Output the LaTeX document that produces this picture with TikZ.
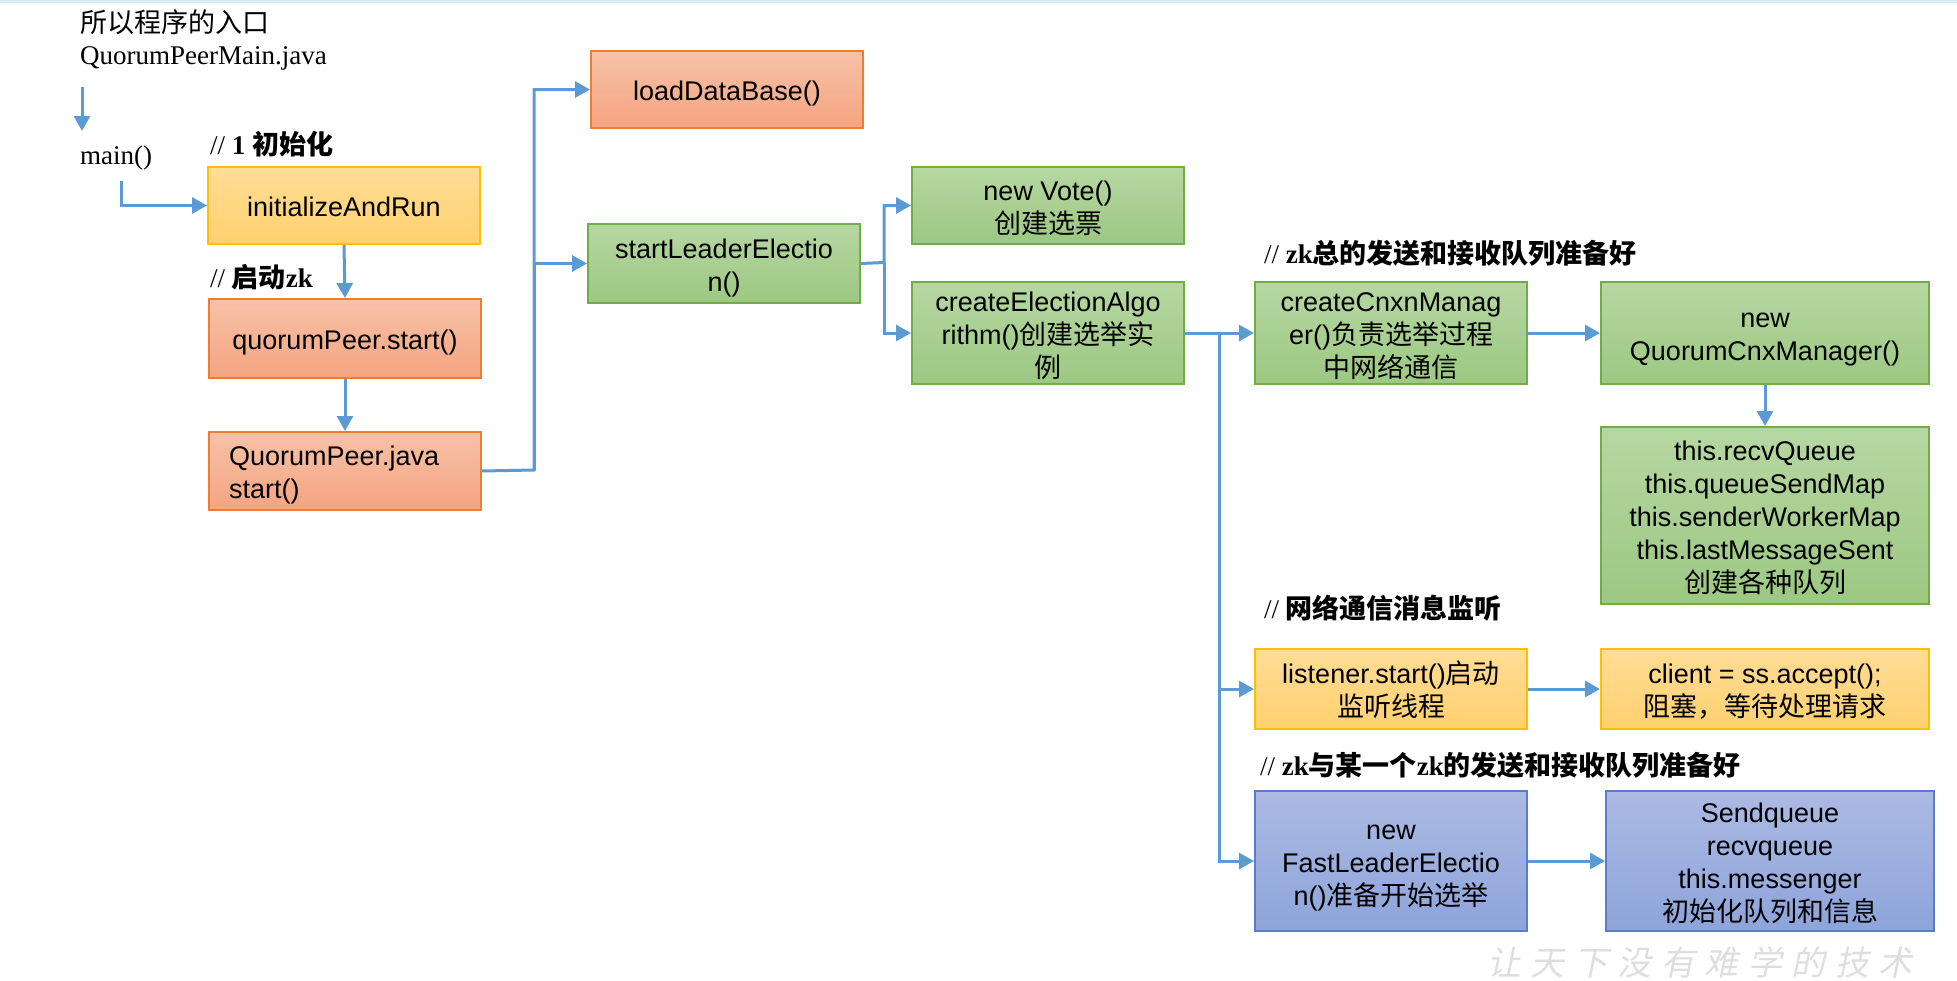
\documentclass[tikz,border=0pt]{standalone}
\usepackage{fontspec}
\setmainfont{Liberation Serif}
\setsansfont{Liberation Sans}
\newfontfamily\cjk{Noto Sans CJK SC}
\newfontfamily\cjkwm[FakeSlant=0.2]{Noto Sans CJK SC}
\usetikzlibrary{arrows.meta}
\definecolor{arrowblue}{RGB}{91,155,213}
\definecolor{ortop}{RGB}{247,194,168}
\definecolor{orbot}{RGB}{244,164,128}
\definecolor{orbd}{RGB}{237,125,49}
\definecolor{yetop}{RGB}{255,221,150}
\definecolor{yebot}{RGB}{255,208,110}
\definecolor{yebd}{RGB}{255,192,0}
\definecolor{grtop}{RGB}{182,215,162}
\definecolor{grbot}{RGB}{156,200,130}
\definecolor{grbd}{RGB}{112,173,71}
\definecolor{bltop}{RGB}{172,186,227}
\definecolor{blbot}{RGB}{141,164,218}
\definecolor{blbd}{RGB}{90,125,200}
\definecolor{topline}{RGB}{210,240,240}
\definecolor{wmgray}{RGB}{222,222,222}
\tikzset{
  arr/.style={draw=arrowblue, line width=3pt, -{Triangle[length=15pt,width=16pt]}},
  box/.style={draw, line width=2pt, inner sep=0pt, align=center, anchor=north west,
    font=\sffamily\fontsize{27}{33}\selectfont, text=black,
    execute at begin node={\rule{0pt}{28pt}},
    execute at end node={\rule[-6pt]{0pt}{0pt}}},
  ml/.style={execute at begin node={\rule{0pt}{#1}}},
  orangebox/.style={box, draw=orbd, top color=ortop, bottom color=orbot},
  yellowbox/.style={box, draw=yebd, top color=yetop, bottom color=yebot},
  greenbox/.style={box, draw=grbd, top color=grtop, bottom color=grbot},
  bluebox/.style={box, draw=blbd, top color=bltop, bottom color=blbot},
  lbl/.style={anchor=west, inner sep=0pt, font=\rmfamily\fontsize{27}{33}\selectfont},
  cmt/.style={anchor=west, inner sep=0pt, font=\rmfamily\fontsize{27}{33}\selectfont},
}
\begin{document}
\begin{tikzpicture}[x=1pt,y=-1pt]
\useasboundingbox (0,0) rectangle (1957,980);
\fill[topline] (0,0) rectangle (1957,2.5);

% left texts
\node[lbl] (t1) at (80,22) {{\cjk 所以程序的入口}};
\node[lbl] (t2) at (80,58) {QuorumPeerMain.java};
\node[lbl] (mainn) at (80,158) {main()};
\coordinate (s1) at (82,87);
\coordinate (s2) at (82,131);
\coordinate (m1) at (121,181);
\draw[arr] (s1) -- (s2);

% comments
\node[cmt] (c1) at (210,144) {// \textbf{1} {\cjk\bfseries 初始化}};
\node[cmt] (c2) at (210,277) {// {\cjk\bfseries 启动}\textbf{zk}};
\node[cmt] (c3) at (1264,253) {// \textbf{zk}{\cjk\bfseries 总的发送和接收队列准备好}};
\node[cmt] (c4) at (1264,608) {// {\cjk\bfseries 网络通信消息监听}};
\node[cmt] (c5) at (1260,765) {// \textbf{zk}{\cjk\bfseries 与某一个}\textbf{zk}{\cjk\bfseries 的发送和接收队列准备好}};

% boxes
\node[yellowbox, minimum width=272pt, minimum height=77pt] (init) at (207,166) {initializeAndRun};
\node[orangebox, minimum width=272pt, minimum height=79pt] (qstart) at (208,298) {quorumPeer.start()};
\node[orangebox, text width=232pt, inner xsep=20pt, align=left, minimum height=78pt] (qpjava) at (208,431) {QuorumPeer.java\\start()};
\node[orangebox, minimum width=272pt, minimum height=77pt] (load) at (590,50) {loadDataBase()};
\node[greenbox, ml=61pt, minimum width=272pt, minimum height=79pt] (sle) at (587,223) {startLeaderElectio\\n()};
\node[greenbox, ml=61pt, minimum width=272pt, minimum height=77pt] (vote) at (911,166) {new Vote()\\{\cjk 创建选票}};
\node[greenbox, ml=94pt, minimum width=272pt, minimum height=102pt] (cea) at (911,281) {createElectionAlgo\\rithm(){\cjk 创建选举实}\\{\cjk 例}};
\node[greenbox, ml=94pt, minimum width=272pt, minimum height=102pt] (ccm) at (1254,281) {createCnxnManag\\er(){\cjk 负责选举过程}\\{\cjk 中网络通信}};
\node[greenbox, ml=61pt, minimum width=328pt, minimum height=102pt] (qcm) at (1600,281) {new\\QuorumCnxManager()};
\node[greenbox, ml=160pt, minimum width=328pt, minimum height=177pt] (recv) at (1600,426) {this.recvQueue\\this.queueSendMap\\this.senderWorkerMap\\this.lastMessageSent\\{\cjk 创建各种队列}};
\node[yellowbox, ml=61pt, minimum width=272pt, minimum height=80pt] (lis) at (1254,648) {listener.start(){\cjk 启动}\\{\cjk 监听线程}};
\node[yellowbox, ml=61pt, minimum width=328pt, minimum height=80pt] (cli) at (1600,648) {client = ss.accept();\\{\cjk 阻塞，等待处理请求}};
\node[bluebox, ml=94pt, minimum width=272pt, minimum height=140pt] (fle) at (1254,790) {new\\FastLeaderElectio\\n(){\cjk 准备开始选举}};
\node[bluebox, ml=127pt, minimum width=328pt, minimum height=140pt] (sq) at (1605,790) {Sendqueue\\recvqueue\\this.messenger\\{\cjk 初始化队列和信息}};

% connectors
\draw[arr] (m1) |- (init.west);
\draw[arr] (init.south) -- (qstart.north);
\draw[arr] (qstart.south) -- (qpjava.north);
\coordinate (j1) at (534,470);
\draw[arr] (qpjava.east) -- (j1) |- (load.west);
\draw[arr] (j1) |- (sle.west);
\coordinate (j2) at (884,262.5);
\draw[arr] (sle.east) -- (j2) |- (vote.west);
\draw[arr] (j2) |- (cea.west);
\coordinate (j3) at (1219,332);
\draw[arr] (cea.east) -- (ccm.west);
\draw[arr] (j3) |- (lis.west);
\draw[arr] (j3) |- (fle.west);
\draw[arr] (ccm.east) -- (qcm.west);
\draw[arr] (qcm.south) -- (recv.north);
\draw[arr] (lis.east) -- (cli.west);
\draw[arr] (fle.east) -- (sq.west);

% watermark
\node[anchor=base, inner sep=0pt, text=wmgray, font=\cjkwm\fontsize{34}{34}\selectfont] (wm) at (1700,975) {让\hspace{9.5pt}天\hspace{9.5pt}下\hspace{9.5pt}没\hspace{9.5pt}有\hspace{9.5pt}难\hspace{9.5pt}学\hspace{9.5pt}的\hspace{9.5pt}技\hspace{9.5pt}术};
\end{tikzpicture}
\end{document}
